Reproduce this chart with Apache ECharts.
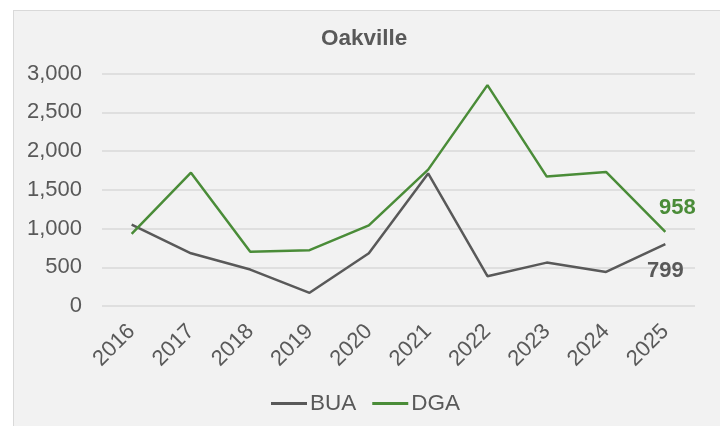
<!DOCTYPE html>
<html>
<head>
<meta charset="utf-8">
<script src="https://cdn.jsdelivr.net/npm/echarts@6/dist/echarts.min.js"></script>
<style>
  html, body { margin: 0; padding: 0; background: #ffffff; }
  #wrap { position: relative; width: 720px; height: 426px; overflow: hidden; }
  #panel {
    position: absolute; left: 13px; top: 10px; width: 720px; height: 430px;
    background: #f2f2f2; border-left: 1px solid #d9d9d9; border-top: 1px solid #d9d9d9;
  }
  #chart { position: absolute; left: 0; top: 0; width: 720px; height: 426px; }
</style>
</head>
<body>
<div id="wrap">
  <div id="panel"></div>
  <div id="chart"></div>
</div>
<script>
// Annual totals for Oakville, 2016–2025
const years = ['2016', '2017', '2018', '2019', '2020', '2021', '2022', '2023', '2024', '2025'];
const buaValues = [1050, 680, 470, 170, 680, 1710, 385, 560, 440, 799];
const dgaValues = [930, 1720, 700, 720, 1040, 1760, 2850, 1670, 1730, 958];
const yTicks = { min: 0, max: 3000, interval: 500 };

const FONT = '"Liberation Sans", Arial, sans-serif';
const GREY = '#595959';
const GREEN = '#4a8c38';

// Only the final point of each series carries a value label
function withEndLabel(values, labelOpts) {
  return values.map((v, i) => i === values.length - 1
    ? { value: v, label: Object.assign({ show: true }, labelOpts) }
    : v);
}

const chart = echarts.init(document.getElementById('chart'), null, { renderer: 'canvas' });
chart.setOption({
  backgroundColor: 'transparent',
  animation: false,
  title: {
    text: 'Oakville',
    left: 321,
    top: 27,
    padding: 0,
    textStyle: { fontFamily: FONT, fontSize: 22.5, fontWeight: 'bold', color: GREY }
  },
  legend: {
    data: ['BUA', 'DGA'],
    left: 271,
    top: 392,
    padding: 0,
    icon: 'rect',
    itemWidth: 36,
    itemHeight: 3,
    itemGap: 16,
    textStyle: { fontFamily: FONT, fontSize: 22.5, color: GREY, padding: [0, 0, 0, -2] }
  },
  grid: { left: 102, right: 25, top: 73.5, height: 232.5, containLabel: false },
  xAxis: {
    type: 'category',
    data: years,
    boundaryGap: true,
    axisLine: { show: false },
    axisTick: { show: false },
    axisLabel: { rotate: 45, margin: 22, fontFamily: FONT, fontSize: 22, color: GREY, interval: 0 }
  },
  yAxis: {
    type: 'value',
    min: yTicks.min,
    max: yTicks.max,
    interval: yTicks.interval,
    axisLine: { show: false },
    axisTick: { show: false },
    splitLine: { lineStyle: { color: '#d9d9d9', width: 1.5 } },
    axisLabel: {
      margin: 20,
      fontFamily: FONT, fontSize: 22, color: GREY,
      formatter: v => v.toLocaleString('en-US')
    }
  },
  series: [
    {
      name: 'BUA',
      type: 'line',
      data: withEndLabel(buaValues, {
        position: 'inside', offset: [0, 27],
        fontFamily: FONT, fontSize: 22, fontWeight: 'bold', color: GREY
      }),
      symbol: 'circle', symbolSize: 0, showSymbol: true,
      lineStyle: { color: GREY, width: 2.5 },
      itemStyle: { color: GREY }
    },
    {
      name: 'DGA',
      type: 'line',
      data: withEndLabel(dgaValues, {
        position: 'inside', offset: [12, -24],
        fontFamily: FONT, fontSize: 22, fontWeight: 'bold', color: GREEN
      }),
      symbol: 'circle', symbolSize: 0, showSymbol: true,
      lineStyle: { color: GREEN, width: 2.5 },
      itemStyle: { color: GREEN }
    }
  ]
});
</script>
</body>
</html>
